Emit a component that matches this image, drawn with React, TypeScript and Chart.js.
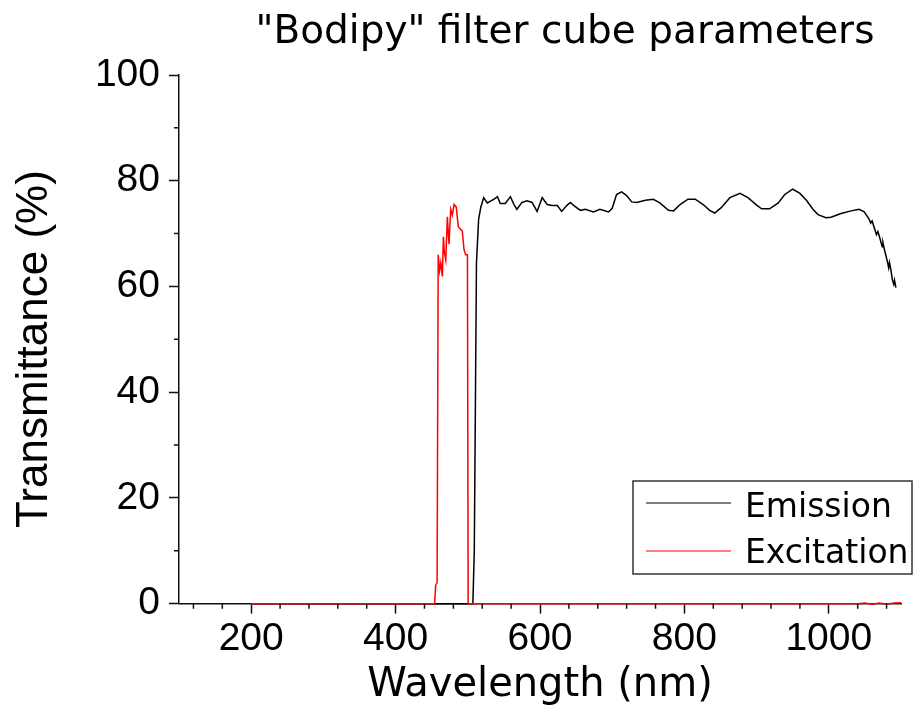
import React, { useEffect, useRef } from "react";
import { Chart, registerables } from "chart.js";

Chart.register(...registerables);

// Filter cube transmission spectra (wavelength in nm, transmittance in %)
const emissionNm = [
  200, 507, 509, 512, 515, 518, 522, 527, 532, 536, 541, 545, 552, 559, 564, 568,
  575, 582, 589, 596, 603, 610, 617, 624, 630, 637, 642, 647, 656, 663, 674, 683,
  695, 700, 706, 713, 720, 727, 734, 746, 757, 766, 778, 785, 794, 805, 815, 826,
  835, 842, 851, 863, 877, 888, 900, 907, 918, 930, 939, 950, 960, 969, 978, 985,
  996, 1003, 1017, 1031, 1042, 1049, 1056, 1058, 1060, 1063, 1066, 1068, 1070,
  1074, 1075, 1077, 1081, 1083, 1084, 1086, 1088, 1090, 1091, 1093,
];
const emissionPct = [
  0, 0, 10, 64.5, 72.7, 75, 76.8, 75.8, 76.2, 76.5, 77, 75.7, 75.7, 77, 75.5, 74.6,
  75.9, 76.2, 75.9, 74.2, 76.8, 75.5, 75.3, 75.3, 74.2, 75.3, 75.9, 75.3, 74.4, 74.6, 74.1, 74.6,
  74.1, 74.8, 77.4, 77.9, 77.2, 76.0, 75.9, 76.3, 76.5, 75.8, 74.4, 74.3, 75.5, 76.5, 76.5, 75.5,
  74.4, 73.9, 74.9, 76.8, 77.6, 76.8, 75.4, 74.7, 74.7, 75.8, 77.4, 78.4, 77.6, 76.3, 74.6, 73.6,
  73.0, 73.1, 73.8, 74.3, 74.6, 74.1, 72.7, 72.0, 72.4, 71.1, 69.8, 70.4, 69.5,
  67.5, 68.3, 67.0, 64.8, 63.5, 64.5, 63.2, 61.3, 60.4, 61.2, 59.8,
];

const excitationNm = [
  200, 454, 455.5, 457.5, 459, 461, 462.6, 464.8, 466.2, 467.5, 469.5, 471.7, 473, 474,
  476.3, 478.6, 481, 484, 486.9, 490.2, 492.4, 494.7, 497, 499.5, 500.5, 1040, 1050,
  1060, 1070, 1080, 1090, 1100,
];
const excitationPct = [
  0, 0, 3.5, 4, 66, 63, 64.5, 61.9, 69.4, 66.5, 65, 73.2, 70, 68,
  74.6, 73.5, 75.5, 75, 71.3, 70.8, 70.5, 67, 66, 66, 0, 0, 0.12,
  -0.1, 0.12, -0.1, 0.12, 0.2,
];

const wavelengthTicks = [200, 400, 600, 800, 1000];
const transmittanceTicks = [0, 20, 40, 60, 80, 100];

const chartTitle = '"Bodipy" filter cube parameters';
const xTitle = "Wavelength (nm)";
const yTitle = "Transmittance (%)";

const AXIS_COLOR = "#111";

const toPoints = (xs: number[], ys: number[]) => xs.map((x, i) => ({ x, y: ys[i] }));

// Title, rotated y title, minor ticks and the boxed legend
const decorations = {
  id: "decorations",
  afterDraw(chart: any) {
    const { ctx, scales } = chart;
    const xs = scales.x;
    const ys = scales.y;
    ctx.save();

    // minor ticks
    ctx.strokeStyle = AXIS_COLOR;
    ctx.lineWidth = 1.5;
    ctx.beginPath();
    for (let v = 120; v < 1100; v += 40) {
      if (wavelengthTicks.includes(v)) continue;
      const px = xs.getPixelForValue(v);
      ctx.moveTo(px, ys.bottom);
      ctx.lineTo(px, ys.bottom + 5);
    }
    for (let v = 10; v < 100; v += 20) {
      const py = ys.getPixelForValue(v);
      ctx.moveTo(xs.left, py);
      ctx.lineTo(xs.left - 5, py);
    }
    ctx.stroke();

    // main title
    ctx.fillStyle = "#000";
    ctx.font = '39px "DejaVu Sans"';
    ctx.textAlign = "center";
    ctx.textBaseline = "alphabetic";
    ctx.fillText(chartTitle, 565, 43);

    // y axis title
    ctx.save();
    ctx.translate(46.5, 349);
    ctx.rotate(-Math.PI / 2);
    ctx.font = '44px "Liberation Sans"';
    ctx.fillText(yTitle, 0, 0);
    ctx.restore();

    // legend
    const bx = 633, by = 481, bw = 279, bh = 93;
    ctx.fillStyle = "#fff";
    ctx.fillRect(bx, by, bw, bh);
    ctx.strokeStyle = "#333";
    ctx.lineWidth = 1.5;
    ctx.strokeRect(bx, by, bw, bh);
    const rows = [
      { ds: chart.data.datasets[0], lineY: 503, textY: 517 },
      { ds: chart.data.datasets[1], lineY: 551, textY: 563 },
    ];
    ctx.font = '33px "DejaVu Sans"';
    ctx.textAlign = "left";
    for (const r of rows) {
      ctx.strokeStyle = r.ds.borderColor;
      ctx.lineWidth = 1.2;
      ctx.beginPath();
      ctx.moveTo(646, r.lineY);
      ctx.lineTo(731, r.lineY);
      ctx.stroke();
      ctx.fillStyle = "#000";
      ctx.fillText(r.ds.label, 745, r.textY);
    }
    ctx.restore();
  },
};

export default function App() {
  const ref = useRef<HTMLCanvasElement | null>(null);

  useEffect(() => {
    if (!ref.current) return;
    const chart = new Chart(ref.current, {
      type: "line",
      data: {
        datasets: [
          {
            label: "Emission",
            data: toPoints(emissionNm, emissionPct),
            borderColor: "#000000",
            borderWidth: 1.5,
            pointRadius: 0,
            order: 1,
          },
          {
            label: "Excitation",
            data: toPoints(excitationNm, excitationPct),
            borderColor: "#ff0000",
            borderWidth: 1.5,
            pointRadius: 0,
            order: 0,
          },
        ],
      },
      options: {
        responsive: false,
        animation: false,
        devicePixelRatio: 1,
        clip: false as any,
        layout: { padding: { top: 75, right: 13, left: 0, bottom: 0 } },
        plugins: {
          legend: { display: false },
          title: { display: false },
          tooltip: { enabled: false },
        },
        scales: {
          x: {
            type: "linear",
            min: 100,
            max: 1100,
            afterBuildTicks: (s: any) => {
              s.ticks = wavelengthTicks.map((value) => ({ value }));
            },
            afterFit: (s: any) => {
              s.height = 112.3;
            },
            ticks: {
              color: "#000",
              font: { family: "Liberation Sans", size: 39 },
              padding: 2,
              maxRotation: 0,
              autoSkip: false,
              callback: (v: any) => String(v),
            },
            grid: {
              drawOnChartArea: false,
              drawTicks: true,
              tickLength: 10,
              tickColor: AXIS_COLOR,
              tickWidth: 1.5,
            },
            border: { display: true, color: AXIS_COLOR, width: 1.5 },
            title: {
              display: true,
              text: xTitle,
              color: "#000",
              font: { family: "DejaVu Sans", size: 40 },
              padding: { top: 0, bottom: 6 },
            },
          },
          y: {
            type: "linear",
            min: 0,
            max: 100,
            afterBuildTicks: (s: any) => {
              s.ticks = transmittanceTicks.map((value) => ({ value }));
            },
            afterFit: (s: any) => {
              s.width = 179;
            },
            ticks: {
              color: "#000",
              font: { family: "Liberation Sans", size: 39 },
              padding: 9,
              callback: (v: any) => String(v),
            },
            grid: {
              drawOnChartArea: false,
              drawTicks: true,
              tickLength: 10,
              tickColor: AXIS_COLOR,
              tickWidth: 1.5,
            },
            border: { display: true, color: AXIS_COLOR, width: 1.5 },
          },
        },
      },
      plugins: [decorations],
    });
    return () => chart.destroy();
  }, []);

  return (
    <div style={{ position: "absolute", left: 0, top: 0, width: 914, height: 716, background: "#fff" }}>
      <canvas ref={ref} width={914} height={716} />
    </div>
  );
}
